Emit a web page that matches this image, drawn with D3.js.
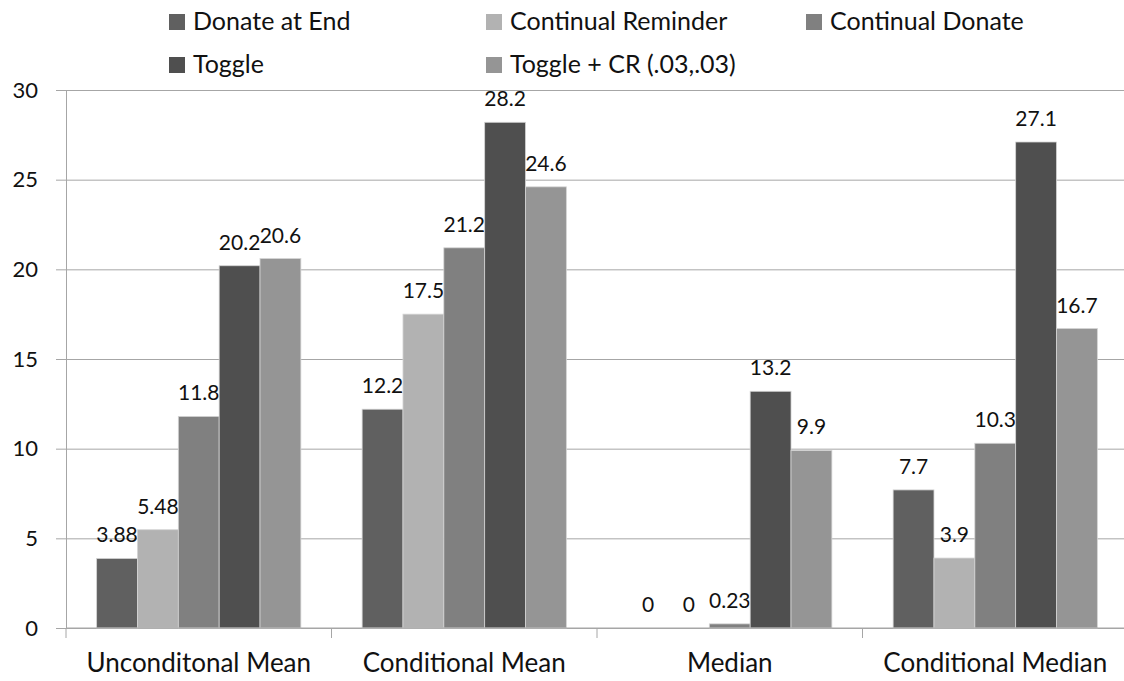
<!DOCTYPE html>
<html>
<head>
<meta charset="utf-8">
<script src="https://cdn.jsdelivr.net/npm/d3@7"></script>
<style>
  html, body { margin: 0; padding: 0; background: #fff; }
  svg { display: block; }
  text { font-family: Lato, "Open Sans", sans-serif; fill: #111; }
</style>
</head>
<body>
<svg id="chart" width="1124" height="681"></svg>
<script>
// Groups along the x axis
const categories = ["Unconditonal Mean", "Conditional Mean", "Median", "Conditional Median"];
// Series names, in legend / bar order
const seriesNames = ["Donate at End", "Continual Reminder", "Continual Donate", "Toggle", "Toggle + CR (.03,.03)"];
// Values per series, one per category
const donateAtEnd       = [3.88, 12.2, 0, 7.7];
const continualReminder = [5.48, 17.5, 0, 3.9];
const continualDonate   = [11.8, 21.2, 0.23, 10.3];
const toggle            = [20.2, 28.2, 13.2, 27.1];
const toggleCR          = [20.6, 24.6, 9.9, 16.7];
// Value labels as printed above each bar
const donateAtEndLabels       = ["3.88", "12.2", "0", "7.7"];
const continualReminderLabels = ["5.48", "17.5", "0", "3.9"];
const continualDonateLabels   = ["11.8", "21.2", "0.23", "10.3"];
const toggleLabels            = ["20.2", "28.2", "13.2", "27.1"];
const toggleCRLabels          = ["20.6", "24.6", "9.9", "16.7"];
const yTicks = [0, 5, 10, 15, 20, 25, 30];

const seriesValues = [donateAtEnd, continualReminder, continualDonate, toggle, toggleCR];
const seriesLabels = [donateAtEndLabels, continualReminderLabels, continualDonateLabels, toggleLabels, toggleCRLabels];
const colors = ["#606060", "#b2b2b2", "#808080", "#4f4f4f", "#959595"];

const svg = d3.select("#chart");
const plotLeft = 66, plotRight = 1128, plotTop = 90, plotBottom = 628;

const x = d3.scaleBand().domain(categories).range([plotLeft, plotRight]).padding(0);
// bars take 5 of 6.5 slots per group (gap = 1.5 bar widths, split on both sides)
const barW = x.bandwidth() / 6.5;
const inner = d3.scaleBand().domain(seriesNames)
  .range([barW * 0.75, x.bandwidth() - barW * 0.75]).padding(0);
const y = d3.scaleLinear().domain([0, 30]).range([plotBottom, plotTop]);

// gridlines
svg.append("g")
  .attr("transform", `translate(${plotLeft},0)`)
  .call(d3.axisLeft(y).tickValues(yTicks).tickSize(-(plotRight - plotLeft)).tickFormat(""))
  .call(g => g.select(".domain").remove())
  .call(g => g.selectAll("line").attr("stroke", "#a6a6a6").attr("stroke-width", 1));

// y axis with outside ticks and labels
const yAxis = svg.append("g")
  .attr("transform", `translate(${plotLeft},0)`)
  .call(d3.axisLeft(y).tickValues(yTicks).tickSize(10).tickPadding(18))
  .call(g => g.select(".domain").attr("stroke", "#a6a6a6"))
  .call(g => g.selectAll("line").attr("stroke", "#a6a6a6"));
yAxis.selectAll("text").style("font-size", "22px").attr("fill", "#111").attr("font-family", "Lato, sans-serif");

// bars
const groups = svg.append("g").selectAll("g")
  .data(categories)
  .join("g")
  .attr("transform", d => `translate(${x(d)},0)`);

groups.each(function (cat, ci) {
  const g = d3.select(this);
  seriesNames.forEach((s, si) => {
    const v = seriesValues[si][ci];
    g.append("rect")
      .attr("x", inner(s))
      .attr("width", inner.bandwidth())
      .attr("y", y(v))
      .attr("height", y(0) - y(v))
      .attr("fill", colors[si])
      .attr("stroke", "#d4d4d4")
      .attr("stroke-width", 0.8);
    g.append("text")
      .attr("x", inner(s) + inner.bandwidth() / 2)
      .attr("y", y(v) - 16)
      .attr("text-anchor", "middle")
      .style("font-size", "21px")
      .text(seriesLabels[si][ci]);
  });
});

// x axis
const xAxis = svg.append("g")
  .attr("transform", `translate(0,${plotBottom})`);
xAxis.append("line").attr("x1", plotLeft).attr("x2", plotRight).attr("y1", 0).attr("y2", 0).attr("stroke", "#a6a6a6");
xAxis.selectAll("line.tick")
  .data(categories.map(c => x(c)).concat([plotRight]))
  .join("line")
  .attr("class", "tick")
  .attr("x1", d => d).attr("x2", d => d)
  .attr("y1", 0).attr("y2", 10)
  .attr("stroke", "#a6a6a6");
xAxis.selectAll("text")
  .data(categories)
  .join("text")
  .attr("x", d => x(d) + x.bandwidth() / 2)
  .attr("y", 44)
  .attr("text-anchor", "middle")
  .style("font-size", "26px")
  .text(d => d);

// legend
const legendPos = [[169, 21], [486, 21], [806, 21], [169, 64], [486, 64]];
const legend = svg.append("g").selectAll("g")
  .data(seriesNames)
  .join("g")
  .attr("transform", (d, i) => `translate(${legendPos[i][0]},${legendPos[i][1]})`);
legend.append("rect")
  .attr("x", 0).attr("y", -7).attr("width", 16).attr("height", 16)
  .attr("fill", (d, i) => colors[i]);
legend.append("text")
  .attr("x", 24).attr("y", 9)
  .style("font-size", "25px")
  .text(d => d);
</script>
</body>
</html>
